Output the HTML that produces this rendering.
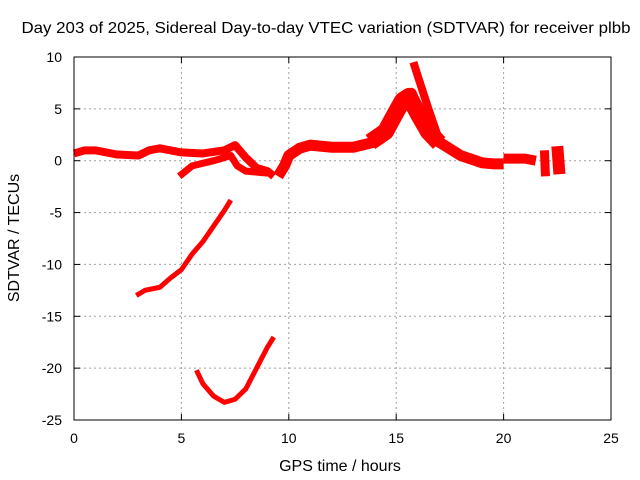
<!DOCTYPE html>
<html><head><meta charset="utf-8"><style>
body{margin:0;background:#fff}
svg{display:block;font-family:"Liberation Sans",sans-serif}
</style></head><body>
<svg id="chart" width="640" height="480">
<text x="326" y="33" font-size="16" text-anchor="middle" textLength="609" lengthAdjust="spacingAndGlyphs">Day 203 of 2025, Sidereal Day-to-day VTEC variation (SDTVAR) for receiver plbb</text>
<text x="340" y="471" font-size="16" text-anchor="middle">GPS time / hours</text>
<text transform="translate(19,238) rotate(-90)" font-size="16" text-anchor="middle">SDTVAR / TECUs</text>
<g id="grid"></g><g id="series"></g><g id="axes"></g>
</svg>
<script>
const xTicks=[0,5,10,15,20,25];
const yTicks=[10,5,0,-5,-10,-15,-20,-25];
const segMain=[[0,0.7],[0.5,1.0],[1,1.0],[2,0.6],[3,0.5],[3.5,1.0],[4,1.2],[5,0.8],[6,0.7],[7,1.0],[7.5,1.5],[8,0.3],[8.5,-0.7],[9,-1.0],[9.3,-1.5]];
const segLower=[[4.9,-1.5],[5.5,-0.5],[6.5,0],[7,0.3],[7.3,0.5],[7.6,-0.5],[8,-1],[9,-1.2]];
const segPeak=[[9.5,-1.5],[9.8,-0.5],[10,0.5],[10.5,1.2],[11,1.5],[12,1.3],[13,1.3],[14,1.8],[14.5,2.5],[15,4.5],[15.3,6],[15.7,6.5],[16,5],[16.5,3],[17,1.8],[18,0.5],[19,-0.2],[19.5,-0.3],[20,-0.3]];
const segPeakBand=[[13.8,1.8],[14.5,2.8],[15,4.7],[15.3,5.8],[15.6,6.2],[16,4.6],[16.5,2.8],[17,1.7]];
const segSpike=[[15.8,9.5],[16,8.2],[16.5,5],[17,2],[17.5,1],[18.5,0.2]];
const segTail=[[20,0.2],[20.5,0.2],[21,0.2],[21.5,0]];
const segBlob1=[[21.9,1.0],[21.95,-1.5]];
const segBlob2=[[22.5,1.4],[22.6,-1.3]];
const segRise=[[2.9,-13],[3.3,-12.5],[4,-12.2],[4.5,-11.3],[5,-10.5],[5.5,-9],[6,-7.8],[6.5,-6.3],[7,-4.8],[7.3,-3.8]];
const segBowl=[[5.7,-20.2],[6,-21.5],[6.5,-22.7],[7,-23.3],[7.5,-23],[8,-22],[8.5,-20],[9,-18],[9.3,-17]];
const series=[["main-trace",segMain,8],["lower-trace",segLower,7],["peak-trace",segPeak,11],["peak-band",segPeakBand,17],["spike-trace",segSpike,8],["tail-trace",segTail,10],["blob-trace-1",segBlob1,9],["blob-trace-2",segBlob2,12],["rise-trace",segRise,5],["bowl-trace",segBowl,5]];
const X0=74,X1=611,Y0=57,Y1=420;
const sx=v=>X0+(v-0)/(25-0)*(X1-X0);
const sy=v=>Y0+(10-v)/(10-(-25))*(Y1-Y0);
const NS="http://www.w3.org/2000/svg";
const grid=document.getElementById('grid'),axes=document.getElementById('axes'),ser=document.getElementById('series');
function mk(tag,attrs,parent){const e=document.createElementNS(NS,tag);for(const k in attrs)e.setAttribute(k,attrs[k]);parent.appendChild(e);return e;}
xTicks.forEach(t=>{
  const x=sx(t);
  if(t>0&&t<25){const g=mk('line',{x1:x,x2:x,y1:Y0,y2:Y1,stroke:'#a0a0a0','stroke-dasharray':'2,3'},grid);
  
  }
  mk('line',{x1:x,x2:x,y1:Y1,y2:Y1-6,stroke:'#000'},axes);
  mk('line',{x1:x,x2:x,y1:Y0,y2:Y0+6,stroke:'#000'},axes);
  const l=mk('text',{x:x,y:Y1+23,'font-size':14,'text-anchor':'middle'},axes);l.textContent=t;
  
  
});
yTicks.forEach(t=>{
  const y=sy(t);
  if(t<10&&t>-25){const g=mk('line',{x1:X0,x2:X1,y1:y,y2:y,stroke:'#a0a0a0','stroke-dasharray':'2,3'},grid);
  
  }
  mk('line',{x1:X0,x2:X0+6,y1:y,y2:y,stroke:'#000'},axes);
  mk('line',{x1:X1,x2:X1-6,y1:y,y2:y,stroke:'#000'},axes);
  const l=mk('text',{x:X0-12,y:y+5,'font-size':14,'text-anchor':'end'},axes);l.textContent=t;
  
  
});
const fr=mk('rect',{x:X0,y:Y0,width:X1-X0,height:Y1-Y0,fill:'none',stroke:'#000'},axes);


series.forEach(([name,pts,w])=>{
  const p=mk('polyline',{points:pts.map(d=>sx(d[0])+','+sy(d[1])).join(' '),fill:'none',stroke:'#ff0000','stroke-width':w,'stroke-linejoin':'round'},ser);
  
  
});
</script>
</body></html>
